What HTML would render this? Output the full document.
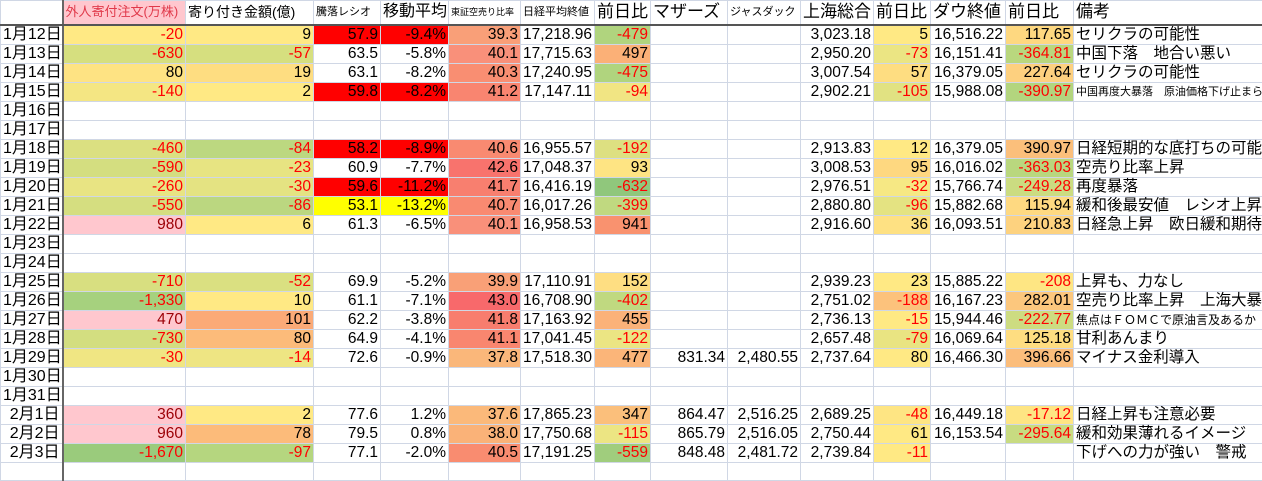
<!DOCTYPE html>
<html><head><meta charset="utf-8">
<style>
html,body{margin:0;padding:0;background:#fff;}
body{width:1262px;height:466px;overflow:hidden;font-family:"Liberation Sans","Noto Sans CJK JP",sans-serif;}
table{border-collapse:collapse;table-layout:fixed;position:absolute;left:0;top:0;width:1262px;}
td{border:1px solid #d0d7e5;padding:0 2px;height:18px;line-height:18px;font-size:15.5px;text-align:right;white-space:nowrap;overflow:hidden;color:#000;box-sizing:border-box;}
tr.h td{height:24px;border-bottom:2px solid #555;text-align:left;font-size:16px;line-height:22px;}
td.d{border-right:2px solid #666;font-size:16px;text-align:right;padding-right:2px;}
td.n{text-align:left;font-size:15.5px;overflow:visible;}
td.ns{text-align:left;font-size:11px;overflow:visible;}
.r{color:#f00;}
.p{background:#ffc7ce;color:#9c0006;}
.R{background:#ff0000;}
.YY{background:#ffff00;}
</style></head><body>
<table>
<colgroup>
<col style="width:62px"><col style="width:123px"><col style="width:128px"><col style="width:67px"><col style="width:68px"><col style="width:72px"><col style="width:74px"><col style="width:56px"><col style="width:77px"><col style="width:73px"><col style="width:73px"><col style="width:57px"><col style="width:75px"><col style="width:68px"><col style="width:189px">
</colgroup>
<tr class="h"><td class="d"></td><td style="background:#ffc7ce;color:#e0394a;font-size:13px">外人寄付注文(万株)</td><td style="font-size:14px">寄り付き金額(億)</td><td style="font-size:11px">騰落レシオ</td><td>移動平均</td><td style="font-size:9px">東証空売り比率</td><td style="font-size:11px">日経平均終値</td><td style="font-size:17px">前日比</td><td style="font-size:17px">マザーズ</td><td style="font-size:11px">ジャスダック</td><td style="font-size:17px">上海総合</td><td style="font-size:17px">前日比</td><td style="font-size:17px">ダウ終値</td><td style="font-size:17px">前日比</td><td style="font-size:17px">備考</td></tr>
<tr><td class="d">1月12日</td><td class="r" style="background:#ffe984">-20</td><td style="background:#ffe984">9</td><td class="R">57.9</td><td class="R">-9.4%</td><td style="background:#f99f78">39.3</td><td>17,218.96</td><td class="r" style="background:#b0d47e">-479</td><td></td><td></td><td>3,023.18</td><td style="background:#ffe984">5</td><td>16,516.22</td><td style="background:#fed880">117.65</td><td class="n">セリクラの可能性</td></tr>
<tr><td class="d">1月13日</td><td class="r" style="background:#d6df7f">-630</td><td class="r" style="background:#d6df7f">-57</td><td>63.5</td><td>-5.8%</td><td style="background:#f9907a">40.1</td><td>17,715.63</td><td style="background:#fbb077">497</td><td></td><td></td><td>2,950.20</td><td class="r" style="background:#ebe583">-73</td><td>16,151.41</td><td class="r" style="background:#b9d77e">-364.81</td><td class="n">中国下落　地合い悪い</td></tr>
<tr><td class="d">1月14日</td><td style="background:#fee383">80</td><td style="background:#fedd81">19</td><td>63.1</td><td>-8.2%</td><td style="background:#f98e72">40.3</td><td>17,240.95</td><td class="r" style="background:#b0d47e">-475</td><td></td><td></td><td>3,007.54</td><td style="background:#fedd81">57</td><td>16,379.05</td><td style="background:#fdd07f">227.64</td><td class="n">セリクラの可能性</td></tr>
<tr><td class="d">1月15日</td><td class="r" style="background:#f4e683">-140</td><td style="background:#ffe984">2</td><td class="R">59.8</td><td class="R">-8.2%</td><td style="background:#f98570">41.2</td><td>17,147.11</td><td class="r" style="background:#f1e583">-94</td><td></td><td></td><td>2,902.21</td><td class="r" style="background:#e1e282">-105</td><td>15,988.08</td><td class="r" style="background:#b3d57e">-390.97</td><td class="ns">中国再度大暴落　原油価格下げ止まらず</td></tr>
<tr><td class="d">1月16日</td><td></td><td></td><td></td><td></td><td></td><td></td><td></td><td></td><td></td><td></td><td></td><td></td><td></td><td></td></tr>
<tr><td class="d">1月17日</td><td></td><td></td><td></td><td></td><td></td><td></td><td></td><td></td><td></td><td></td><td></td><td></td><td></td><td></td></tr>
<tr><td class="d">1月18日</td><td class="r" style="background:#dbe081">-460</td><td class="r" style="background:#bcd880">-84</td><td class="R">58.2</td><td class="R">-8.9%</td><td style="background:#f98a71">40.6</td><td>16,955.57</td><td class="r" style="background:#dde081">-192</td><td></td><td></td><td>2,913.83</td><td style="background:#ffe984">12</td><td>16,379.05</td><td style="background:#fbbf7b">390.97</td><td class="n">日経短期的な底打ちの可能性</td></tr>
<tr><td class="d">1月19日</td><td class="r" style="background:#d4de80">-590</td><td class="r" style="background:#e7e482">-23</td><td>60.9</td><td>-7.7%</td><td style="background:#f8736d">42.6</td><td>17,048.37</td><td style="background:#fee483">93</td><td></td><td></td><td>3,008.53</td><td style="background:#fed880">95</td><td>16,016.02</td><td class="r" style="background:#b9d77e">-363.03</td><td class="n">空売り比率上昇</td></tr>
<tr><td class="d">1月20日</td><td class="r" style="background:#e8e483">-260</td><td class="r" style="background:#e4e382">-30</td><td class="R">59.6</td><td class="R">-11.2%</td><td style="background:#f87f6f">41.7</td><td>16,416.19</td><td class="r" style="background:#90c77c">-632</td><td></td><td></td><td>2,976.51</td><td class="r" style="background:#f6e884">-32</td><td>15,766.74</td><td class="r" style="background:#cbdc81">-249.28</td><td class="n">再度暴落</td></tr>
<tr><td class="d">1月21日</td><td class="r" style="background:#d5de80">-550</td><td class="r" style="background:#bbd780">-86</td><td class="YY">53.1</td><td class="YY">-13.2%</td><td style="background:#f98a71">40.7</td><td>16,017.26</td><td class="r" style="background:#c0d980">-399</td><td></td><td></td><td>2,880.80</td><td class="r" style="background:#e4e382">-96</td><td>15,882.68</td><td style="background:#fed981">115.94</td><td class="n">緩和後最安値　レシオ上昇</td></tr>
<tr><td class="d">1月22日</td><td class="p">980</td><td style="background:#ffe984">6</td><td>61.3</td><td>-6.5%</td><td style="background:#f9907a">40.1</td><td>16,958.53</td><td style="background:#f9926f">941</td><td></td><td></td><td>2,916.60</td><td style="background:#fee183">36</td><td>16,093.51</td><td style="background:#fdd27f">210.83</td><td class="n">日経急上昇　欧日緩和期待</td></tr>
<tr><td class="d">1月23日</td><td></td><td></td><td></td><td></td><td></td><td></td><td></td><td></td><td></td><td></td><td></td><td></td><td></td><td></td></tr>
<tr><td class="d">1月24日</td><td></td><td></td><td></td><td></td><td></td><td></td><td></td><td></td><td></td><td></td><td></td><td></td><td></td><td></td></tr>
<tr><td class="d">1月25日</td><td class="r" style="background:#d8df80">-710</td><td class="r" style="background:#dae081">-52</td><td>69.9</td><td>-5.2%</td><td style="background:#f9a077">39.9</td><td>17,110.91</td><td style="background:#fede82">152</td><td></td><td></td><td>2,939.23</td><td style="background:#ffe984">23</td><td>15,885.22</td><td class="r" style="background:#fee683">-208</td><td class="n">上昇も、力なし</td></tr>
<tr><td class="d">1月26日</td><td class="r" style="background:#a6d17e">-1,330</td><td style="background:#ffe984">10</td><td>61.1</td><td>-7.1%</td><td style="background:#f8696b">43.0</td><td>16,708.90</td><td class="r" style="background:#c0d980">-402</td><td></td><td></td><td>2,751.02</td><td class="r" style="background:#fcc27c">-188</td><td>16,167.23</td><td style="background:#fcc77d">282.01</td><td class="n">空売り比率上昇　上海大暴落</td></tr>
<tr><td class="d">1月27日</td><td class="p">470</td><td style="background:#fbaa77">101</td><td>62.2</td><td>-3.8%</td><td style="background:#f87d6e">41.8</td><td>17,163.92</td><td style="background:#fbb279">455</td><td></td><td></td><td>2,736.13</td><td class="r" style="background:#ffe984">-15</td><td>15,944.46</td><td class="r" style="background:#cddc81">-222.77</td><td class="ns" style="font-size:12px">焦点はＦＯＭＣで原油言及あるか</td></tr>
<tr><td class="d">1月28日</td><td class="r" style="background:#d3de80">-730</td><td style="background:#fcbb7a">80</td><td>64.9</td><td>-4.1%</td><td style="background:#f9866f">41.1</td><td>17,041.45</td><td class="r" style="background:#ebe583">-122</td><td></td><td></td><td>2,657.48</td><td class="r" style="background:#e9e482">-79</td><td>16,069.64</td><td style="background:#fedd81">125.18</td><td class="n">甘利あんまり</td></tr>
<tr><td class="d">1月29日</td><td class="r" style="background:#f0e683">-30</td><td class="r" style="background:#eee583">-14</td><td>72.6</td><td>-0.9%</td><td style="background:#fab77a">37.8</td><td>17,518.30</td><td style="background:#fbb579">477</td><td>831.34</td><td>2,480.55</td><td>2,737.64</td><td style="background:#ffe984">80</td><td>16,466.30</td><td style="background:#fbbd7b">396.66</td><td class="n">マイナス金利導入</td></tr>
<tr><td class="d">1月30日</td><td></td><td></td><td></td><td></td><td></td><td></td><td></td><td></td><td></td><td></td><td></td><td></td><td></td><td></td></tr>
<tr><td class="d">1月31日</td><td></td><td></td><td></td><td></td><td></td><td></td><td></td><td></td><td></td><td></td><td></td><td></td><td></td><td></td></tr>
<tr><td class="d">2月1日</td><td class="p">360</td><td style="background:#ffe984">2</td><td>77.6</td><td>1.2%</td><td style="background:#fbb97a">37.6</td><td>17,865.23</td><td style="background:#fbbf7b">347</td><td>864.47</td><td>2,516.25</td><td>2,689.25</td><td class="r" style="background:#fee583">-48</td><td>16,449.18</td><td class="r" style="background:#fee583">-17.12</td><td class="n">日経上昇も注意必要</td></tr>
<tr><td class="d">2月2日</td><td class="p">960</td><td style="background:#fcbb7a">78</td><td>79.5</td><td>0.8%</td><td style="background:#fab278">38.0</td><td>17,750.68</td><td class="r" style="background:#ece583">-115</td><td>865.79</td><td>2,516.05</td><td>2,750.44</td><td style="background:#ffe984">61</td><td>16,153.54</td><td class="r" style="background:#c8db81">-295.64</td><td class="n">緩和効果薄れるイメージ</td></tr>
<tr><td class="d">2月3日</td><td class="r" style="background:#9acb7c">-1,670</td><td class="r" style="background:#b5d67f">-97</td><td>77.1</td><td>-2.0%</td><td style="background:#f98c70">40.5</td><td>17,191.25</td><td class="r" style="background:#a0cd7d">-559</td><td>848.48</td><td>2,481.72</td><td>2,739.84</td><td class="r" style="background:#ffe984">-11</td><td></td><td></td><td class="n">下げへの力が強い　警戒</td></tr>
<tr><td class="d"></td><td></td><td></td><td></td><td></td><td></td><td></td><td></td><td></td><td></td><td></td><td></td><td></td><td></td><td></td></tr>
</table>
</body></html>
